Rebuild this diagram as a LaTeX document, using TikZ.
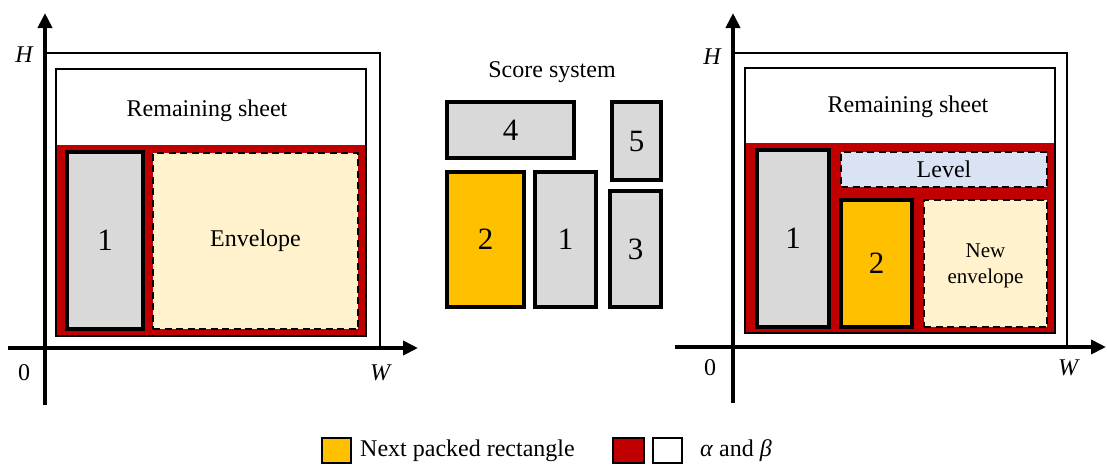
\documentclass[tikz,border=0pt]{standalone}
\usepackage{fontspec}
\setmainfont{Liberation Serif}
\usetikzlibrary{arrows.meta}
\definecolor{redA}{HTML}{C00000}
\definecolor{orangeA}{HTML}{FFC000}
\definecolor{grayA}{HTML}{D9D9D9}
\definecolor{yellowA}{HTML}{FFF2CC}
\definecolor{blueA}{HTML}{DAE3F3}
\newcommand{\mybox}[7]{%
  \node[#6, minimum width={(#4-#2)*1pt}, minimum height={(#5-#3)*1pt}] (#1) at ({(#2+#4)/2},{(#3+#5)/2}) {#7};}
\tikzset{
  base/.style={draw=black, inner sep=0pt, outer sep=0pt},
  sheetbox/.style={base, line width=2.6pt, fill=white},
  piece/.style={base, line width=3.3pt, fill=grayA, font=\fontsize{31}{33}\selectfont},
  nextpiece/.style={piece, fill=orangeA},
  envbox/.style={base, line width=2.8pt, dash pattern=on 7pt off 4.5pt, fill=yellowA, font=\fontsize{24}{26}\selectfont},
  levelbox/.style={envbox, fill=blueA},
  axis/.style={line width=3.8pt, -{Triangle[length=15pt,width=14pt]}},
  outline/.style={line width=2.4pt},
  lbl/.style={inner sep=0pt, font=\fontsize{24}{26}\selectfont},
  axlbl/.style={inner sep=0pt, font=\fontsize{24}{26}\selectfont\itshape},
  legbox/.style={base, line width=2.8pt},
}
\begin{document}
\begin{tikzpicture}[x=1pt,y=-1pt]
\useasboundingbox (0,0) rectangle (1107,467);

% ---------------- left panel ----------------
\coordinate (LYt) at (45,13);
\coordinate (LYb) at (45,405);
\coordinate (LXl) at (8,348);
\coordinate (LXr) at (418,348);
\coordinate (LS1) at (45,53);
\coordinate (LS2) at (380,53);
\coordinate (LS3) at (380,348);
\draw[outline] (LS1) -- (LS2) -- (LS3);
\mybox{Lsheet}{56}{69}{366}{336}{sheetbox}{}
\fill[redA] (57.3,145) rectangle (364.7,334.7);
\mybox{Lone}{67}{152}{143}{329}{piece}{1}
\mybox{Lenv}{153}{153}{358}{329}{envbox}{Envelope}
\node[lbl] (Lrem) at (207,111) {Remaining sheet};
\draw[axis] (LYb) -- (LYt);
\draw[axis] (LXl) -- (LXr);
\node[axlbl] (LH) at (24,55) {H};
\node[lbl] (L0) at (24,373) {0};
\node[axlbl] (LW) at (380,373) {W};

% ---------------- middle ----------------
\node[lbl] (score) at (552,72) {Score system};
\mybox{Mfour}{447}{102}{574}{158}{piece}{4}
\mybox{Mfive}{612}{102}{661}{180}{piece}{5}
\mybox{Mtwo}{447}{172}{524}{307}{nextpiece}{2}
\mybox{Mone}{535}{172}{596}{307}{piece}{1}
\mybox{Mthree}{610}{191}{661}{307}{piece}{3}

% ---------------- right panel ----------------
\coordinate (RYt) at (733,13);
\coordinate (RYb) at (733,403);
\coordinate (RXl) at (675,347);
\coordinate (RXr) at (1106,347);
\coordinate (RS1) at (733,53);
\coordinate (RS2) at (1067,53);
\coordinate (RS3) at (1067,347);
\draw[outline] (RS1) -- (RS2) -- (RS3);
\mybox{Rsheet}{745}{68}{1055}{333}{sheetbox}{}
\fill[redA] (746.3,143) rectangle (1053.7,331.7);
\mybox{Rone}{757}{150}{829}{327}{piece}{1}
\mybox{Rlevel}{841}{152}{1047}{187}{levelbox}{Level}
\mybox{Rtwo}{841}{200}{912}{327}{nextpiece}{2}
\mybox{Renv}{924}{200}{1047}{327}{envbox}{}
\node[lbl, align=center, font=\fontsize{21}{26}\selectfont] (Rnew) at (985.5,266) {New\\envelope};
\node[lbl] (Rrem) at (908,107) {Remaining sheet};
\draw[axis] (RYb) -- (RYt);
\draw[axis] (RXl) -- (RXr);
\node[axlbl] (RH) at (712,57) {H};
\node[lbl] (R0) at (710,368) {0};
\node[axlbl] (RW) at (1068,368) {W};

% ---------------- legend ----------------
\mybox{Korange}{322}{438}{351}{463}{legbox, fill=orangeA}{}
\node[lbl, anchor=west] (Ktext1) at (360,451) {Next packed rectangle};
\mybox{Kred}{613}{438}{644}{463}{legbox, fill=redA}{}
\mybox{Kwhite}{653}{438}{682}{463}{legbox, fill=white}{}
\node[lbl, anchor=west] (Ktext2) at (700,451) {\textit{α} and \textit{β}};
\end{tikzpicture}
\end{document}
